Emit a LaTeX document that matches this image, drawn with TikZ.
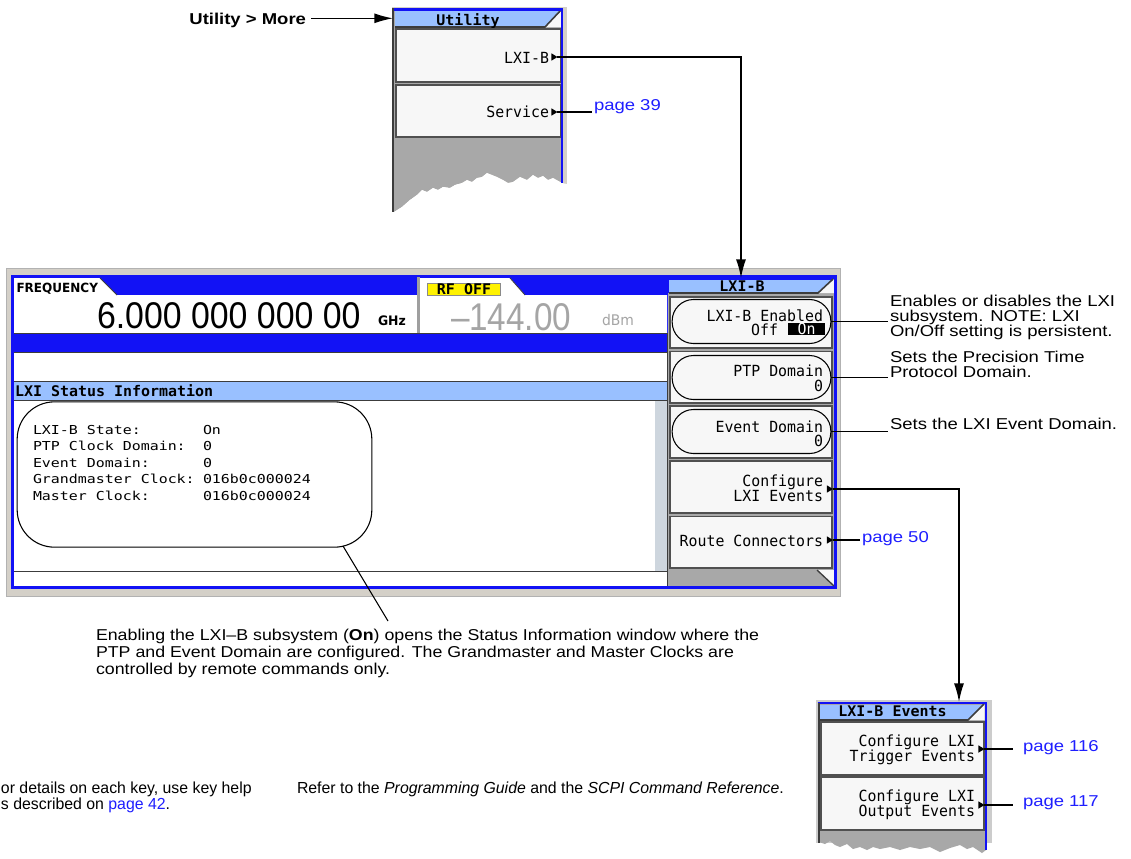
\documentclass[tikz,border=0pt]{standalone}
\usepackage{fontspec}
\setmainfont{Liberation Sans}
\newfontfamily\annf[FakeStretch=1.175]{Liberation Sans}
\newfontfamily\parf[FakeStretch=1.13]{Liberation Sans}
\newfontfamily\notef[FakeStretch=0.99]{Liberation Sans}
\newfontfamily\scrf[FakeStretch=0.97]{DejaVu Sans Mono}
\newfontfamily\stf[FakeStretch=1.21]{DejaVu Sans Mono}
\newfontfamily\ttlf[FakeStretch=1.02]{DejaVu Sans Mono}
\newfontfamily\bigf[FakeStretch=0.91]{Liberation Sans}
\newfontfamily\pwrf[FakeStretch=0.86]{Liberation Sans}
\newfontfamily\frqf[FakeStretch=0.95]{DejaVu Sans}
\usetikzlibrary{shapes.geometric,arrows.meta}
\definecolor{scrblue}{RGB}{18,18,245}
\definecolor{lblue}{RGB}{153,192,255}
\definecolor{btnbg}{RGB}{247,247,247}
\definecolor{btnln}{RGB}{80,80,80}
\definecolor{mgray}{RGB}{168,168,168}
\definecolor{frm}{RGB}{212,208,200}
\definecolor{scroll}{RGB}{206,214,222}
\definecolor{link}{RGB}{30,30,255}
\definecolor{pwrgray}{RGB}{165,165,165}
\definecolor{dk}{RGB}{60,60,60}
\newcommand\fsz[1]{\fontsize{#1}{#1}\selectfont}
\tikzset{
  txt/.style={inner sep=0pt, outer sep=0pt},
  ann/.style={txt, font=\annf\fsz{11.8}, anchor=base west},
  para/.style={txt, font=\parf\fsz{11.8}, anchor=base west},
  note/.style={txt, font=\notef\fsz{12}, anchor=base west},
  lnk/.style={ann, text=link},
  scr/.style={txt, font=\scrf\fsz{11.5}, anchor=base east},
  stat/.style={txt, font=\stf\fsz{9.25}, anchor=base west},
  ttl/.style={txt, font=\ttlf\bfseries\fsz{11}, anchor=base},
  btn/.style={fill=btnbg, draw=btnln, line width=1.2pt},
  oval/.style={draw=black, line width=0.8pt, rounded corners=16pt, inner sep=0pt, minimum width=119pt, minimum height=33pt},
  tri/.style={isosceles triangle, isosceles triangle stretches, shape border rotate=0, minimum width=5.5pt, minimum height=4.5pt, fill=black, inner sep=0pt, outer sep=0pt},
  con/.style={line width=1.1pt},
  arr/.style={con, -{Latex[length=14pt,width=7.5pt]}},
}
\begin{document}
\begin{tikzpicture}[x=0.75pt,y=-0.75pt]
\useasboundingbox[fill=white] (0,0) rectangle (1131,858);

% ================= Utility panel =================
\fill[frm] (392,6.5) rectangle (566.5,184);
\fill[mgray] (394,10) -- (562,10) -- (562,183) -- (553,178) -- (548,180) -- (543,176) -- (538,178) -- (533,175) -- (527,180) -- (520,177) -- (513,182) -- (508,183) -- (503,180) -- (497,177) -- (492,175) -- (487,173) -- (482,177) -- (477,178) -- (472,182) -- (467,180) -- (462,183) -- (455,185) -- (450,188) -- (443,187) -- (438,190) -- (433,188) -- (427,192) -- (422,190) -- (417,195) -- (410,200) -- (402,207) -- (394,212) -- cycle;
\fill[white] (566.5,184) -- (562,183) -- (553,178) -- (548,180) -- (543,176) -- (538,178) -- (533,175) -- (527,180) -- (520,177) -- (513,182) -- (508,183) -- (503,180) -- (497,177) -- (492,175) -- (487,173) -- (482,177) -- (477,178) -- (472,182) -- (467,180) -- (462,183) -- (455,185) -- (450,188) -- (443,187) -- (438,190) -- (433,188) -- (427,192) -- (422,190) -- (417,195) -- (410,200) -- (402,207) -- (394,212) -- (394,215) -- (566.5,215) -- cycle;
\fill[lblue] (395,11) -- (560,11) -- (545,27) -- (395,27) -- cycle;
\fill[btnbg] (561,11) -- (561,27) -- (545,27) -- cycle;
\draw[dk, line width=1.2pt] (395,27) -- (545,27) -- (561,10);
\node[ttl] (utl) at (468,25) {Utility};
\draw[btn] (396,29) rectangle (561,82);
\draw[btn] (396,85) rectangle (561,137);
\draw[scrblue, line width=2pt] (394,9.5) -- (562,9.5) -- (562,183);
\draw[dk, line width=1.5pt] (393,8) -- (393,212);
\node[scr] (kLXI) at (549,63) {LXI-B};
\node[tri] (tLXI) at (553.5,57) {};
\node[scr] (kSrv) at (549,117) {Service};
\node[tri] (tSrv) at (553.5,112) {};

% Utility > More
\node[ann, font=\annf\bfseries\fsz{11.8}, anchor=base east] (um) at (306,24) {Utility > More};
\coordinate (utin) at (393,18.3);
\draw[arr] ([xshift=4pt]um.east |- utin) -- (utin);

% page 39
\node[lnk] (p39) at (594,110) {page 39};
\draw[con] (tSrv.east) -- ([xshift=-1.5pt]tSrv.east -| p39.west);

% ================= Main screen =================
\fill[frm] (6,268) rectangle (840,596);
\draw[gray!60] (6,268) rectangle (840,596);
\fill[scrblue] (11,275) rectangle (837,589);
% frequency area
\fill[white] (14,278) -- (100,278) -- (117,295) -- (417,295) -- (417,333) -- (14,333) -- cycle;
\draw[dk, line width=0.6pt] (100,278) -- (117,295);
\fill[white] (420,278) -- (510,278) -- (525,295) -- (667,295) -- (667,333) -- (420,333) -- cycle;
\draw[dk, line width=0.6pt] (510,278) -- (525,295);
\fill[gray!75] (417,277) rectangle (420,333);
\node[txt, font=\frqf\bfseries\fsz{9.5}, anchor=base west] (frq) at (16.5,292) {FREQUENCY};
\node[txt, font=\bigf\fsz{27.9}, anchor=base west] (fval) at (97,328) {6.000 000 000 00};
\node[txt, font=\frqf\bfseries\fsz{9.8}, anchor=base west] (ghz) at (378,325) {GHz};
\fill[yellow] (427,283) rectangle (500,295.5);
\draw[dk!60, line width=0.5pt] (427,283) rectangle (500,295.5);
\node[ttl] (rf) at (464,294.5) {RF OFF};
\node[txt, font=\pwrf\fsz{29}, text=pwrgray, anchor=base west] (pwr) at (451,330) {–144.00};
\node[txt, font=\frqf\fsz{11}, text=pwrgray, anchor=base west] (dbm) at (602,325.5) {dBm};
% rows
\fill[white] (14,352) rectangle (667,381);
\fill[lblue] (14,381) rectangle (667,400);
\fill[white] (14,400) rectangle (655,571);
\fill[scroll] (655,400) rectangle (667,571);
\fill[white] (14,572) rectangle (667,586);
\draw[dk] (14,333) -- (667,333);
\draw[dk] (14,352) -- (667,352);
\draw[dk] (14,381) -- (667,381);
\draw[dk] (14,400) -- (667,400);
\draw[dk] (14,571.5) -- (667,571.5);
\node[ttl, anchor=base west] (lsi) at (15,396) {LXI Status Information};
% status box
\node[draw=black, line width=0.8pt, rounded corners=28pt, minimum width=266pt, minimum height=109pt, inner sep=0pt] (stbox) at (194.5,474.5) {};
\foreach \lab/\val [count=\i] in {LXI-B State:/On, PTP Clock Domain:/0, Event Domain:/0, Grandmaster Clock:/016b0c000024, Master Clock:/016b0c000024}{
  \node[stat] (sl\i) at (33,{434+16.5*(\i-1)}) {\lab};
  \node[stat] (sv\i) at (203,{434+16.5*(\i-1)}) {\val};
}
% LXI-B menu
\fill[mgray] (668,293) rectangle (834,586);
\fill[lblue] (669,280) -- (832,280) -- (818,293) -- (669,293) -- cycle;
\fill[btnbg] (834,279) -- (834,293) -- (818,293) -- cycle;
\draw[dk, line width=1.2pt] (669,293) -- (818,293) -- (833,279);
\node[ttl] (lxt) at (742,291) {LXI-B};
\draw[btn] (670,297) rectangle (832,348);
\draw[btn] (670,351.5) rectangle (832,403);
\draw[btn] (670,406) rectangle (832,458);
\draw[btn] (670,461) rectangle (832,513);
\draw[btn] (670,516.5) rectangle (832,568);
\fill[btnbg] (817,570) -- (834,586) -- (834,570) -- cycle;
\draw[dk, line width=1pt] (817,570) -- (834,586);
\draw[dk, line width=1.2pt] (667.5,333) -- (667.5,586);
\node[oval] (ov1) at (751.5,321.5) {};
\node[oval] (ov2) at (751.5,377.5) {};
\node[oval] (ov3) at (751.5,431.5) {};
\node[scr] (k1) at (823,321) {LXI-B Enabled};
\node[scr] (k1o) at (778,335) {Off};
\node[txt, fill=black, text=white, font=\scrf\fsz{11.5}, minimum width=27.5pt, minimum height=9pt] (k1n) at (806.5,329) {On};
\node[scr] (k2) at (823,376) {PTP Domain};
\node[scr] (k2v) at (823,391) {0};
\node[scr] (k3) at (823,432) {Event Domain};
\node[scr] (k3v) at (823,446) {0};
\node[scr] (k4) at (823,486.5) {Configure};
\node[scr] (k4b) at (823,501.5) {LXI Events};
\node[tri] (tCfg) at (829,489) {};
\node[scr] (k5) at (823,546.5) {Route Connectors};
\node[tri] (tRte) at (829,540) {};
\draw[scrblue, line width=2.5pt] (835.5,276) -- (835.5,588);

% connector Utility -> LXI-B menu
\coordinate (lxin) at (741,278);
\draw[arr] (tLXI.east) -| (lxin);

% annotations on the right
\node[ann] (a1) at (890,306) {Enables or disables the LXI};
\node[ann] (a1b) at (890,321) {subsystem. NOTE: LXI};
\node[ann] (a1c) at (890,336) {On/Off setting is persistent.};
\node[ann] (a2) at (890,362.7) {Sets the Precision Time};
\node[ann] (a2b) at (890,377) {Protocol Domain.};
\node[ann] (a3) at (890,429.5) {Sets the LXI Event Domain.};
\draw[con] (ov1.east) -- ([xshift=-1.5pt]ov1.east -| a1b.west);
\draw[con] (ov2.east) -- ([xshift=-1.5pt]ov2.east -| a2b.west);
\draw[con] (ov3.east) -- ([xshift=-1.5pt]ov3.east -| a3.west);

% page 50
\node[lnk] (p50) at (862,542) {page 50};
\draw[con] (tRte.east) -- ([xshift=-1.5pt]tRte.east -| p50.west);

% status callout and paragraph
\coordinate (cl0) at (343,546);
\coordinate (cl1) at (388,621);
\draw[line width=0.8pt] (cl0) -- (cl1);
\node[para] (pa1) at (96,640) {Enabling the LXI–B subsystem (\textbf{On}) opens the Status Information window where the};
\node[para] (pa2) at (96,657) {PTP and Event Domain are configured. The Grandmaster and Master Clocks are};
\node[para] (pa3) at (96,674) {controlled by remote commands only.};

% ================= LXI-B Events panel =================
\fill[gray!40] (816,700) rectangle (992,843);
\fill[mgray] (819,704) -- (986,704) -- (986,850) -- (982,853) -- (973,847) -- (967,849) -- (960,845) -- (950,848) -- (940,852) -- (930,847) -- (920,849) -- (910,847) -- (900,850) -- (890,847) -- (880,849) -- (873,847) -- (867,850) -- (860,847) -- (853,849) -- (847,844) -- (840,847) -- (835,845) -- (830,841) -- (825,844) -- (819,842) -- cycle;
\fill[lblue] (820,705) -- (983,705) -- (968,720) -- (820,720) -- cycle;
\fill[btnbg] (984.5,704.5) -- (984.5,720) -- (968,720) -- cycle;
\draw[dk, line width=1.2pt] (820,720) -- (968,720) -- (984,704);
\node[ttl] (evt) at (892.5,716.7) {LXI-B Events};
\draw[btn] (821,722) rectangle (984,775);
\draw[btn] (821,777) rectangle (984,830);
\draw[scrblue, line width=2pt] (818,703) -- (986,703) -- (986,850);
\draw[dk, line width=1.2pt] (819,703) -- (819,843);
\node[scr] (e1) at (975,746.7) {Configure LXI};
\node[scr] (e1b) at (975,761) {Trigger Events};
\node[tri] (tE1) at (980.5,749) {};
\node[scr] (e2) at (975,801.7) {Configure LXI};
\node[scr] (e2b) at (975,816) {Output Events};
\node[tri] (tE2) at (980.5,805) {};
\coordinate (evin) at (959,702);
\draw[arr] (tCfg.east) -| (evin);
\node[lnk] (p116) at (1023,751.7) {page 116};
\node[lnk] (p117) at (1023,806.7) {page 117};
\coordinate (le1) at (1013,749);
\coordinate (le2) at (1013,805);
\draw[con] (tE1.east) -- (tE1.east -| le1);
\draw[con] (tE2.east) -- (tE2.east -| le2);

% ================= bottom notes =================
\node[note] (n1) at (1,793) {or details on each key, use key help};
\node[note] (n2) at (1,809) {s described on \textcolor{link}{page 42}.};
\node[note] (n3) at (297,793) {Refer to the \textit{Programming Guide} and the \textit{SCPI Command Reference}.};
\end{tikzpicture}
\end{document}
